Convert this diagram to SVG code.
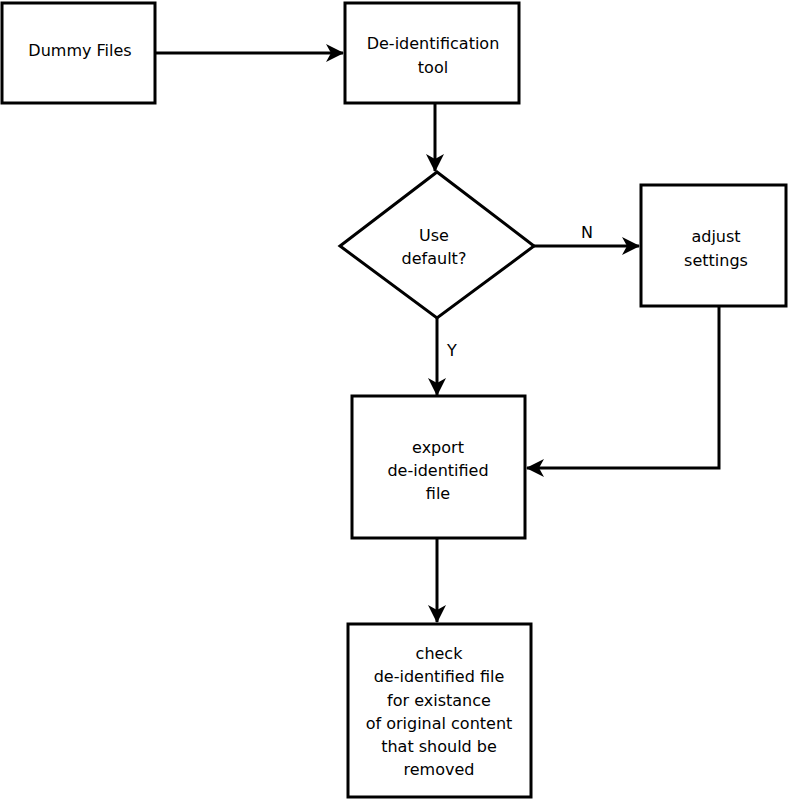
<svg xmlns="http://www.w3.org/2000/svg" width="789" height="800" viewBox="0 0 789 800">
<defs>
<style>
.box{fill:#fff;stroke:#000;stroke-width:3}
.edge{fill:none;stroke:#000;stroke-width:3}
text{font-family:"DejaVu Sans","Liberation Sans",sans-serif;font-size:16px;fill:#000;text-anchor:middle}
</style>
<marker id="arr" viewBox="0 0 18 18" refX="17" refY="9" markerWidth="18" markerHeight="18" markerUnits="userSpaceOnUse" orient="auto">
<path d="M0,0 L18,9 L0,18 L5,9 Z" fill="#000"/>
</marker>
</defs>
<rect width="789" height="800" fill="#fff"/>
<g id="connectors">
<path class="edge" d="M155,53 H343" marker-end="url(#arr)"/>
<path class="edge" d="M435,103 V171" marker-end="url(#arr)"/>
<path class="edge" d="M534,246 H639" marker-end="url(#arr)"/>
<path class="edge" d="M437,317 V395" marker-end="url(#arr)"/>
<path class="edge" d="M719,306 V468 H527" marker-end="url(#arr)"/>
<path class="edge" d="M437,538 V622" marker-end="url(#arr)"/>
<text x="587" y="238">N</text>
<text x="452" y="356">Y</text>
</g>
<g id="dummy">
<rect class="box" x="2" y="3" width="153" height="100"/>
<text x="80" y="56">Dummy Files</text>
</g>
<g id="tool">
<rect class="box" x="345" y="3" width="174" height="100"/>
<text x="433" y="49">De-identification</text>
<text x="433" y="73">tool</text>
</g>
<g id="decision">
<polygon class="box" points="437,172 534,246 437,318 340,246"/>
<text x="434" y="241">Use</text>
<text x="434" y="264">default?</text>
</g>
<g id="adjust">
<rect class="box" x="641" y="185" width="145" height="121"/>
<text x="716" y="242">adjust</text>
<text x="716" y="266">settings</text>
</g>
<g id="export">
<rect class="box" x="352" y="396" width="173" height="142"/>
<text x="438" y="453">export</text>
<text x="438" y="476">de-identified</text>
<text x="438" y="499">file</text>
</g>
<g id="check">
<rect class="box" x="348" y="624" width="183" height="173"/>
<text x="439" y="659">check</text>
<text x="439" y="682">de-identified file</text>
<text x="439" y="706">for existance</text>
<text x="439" y="729">of original content</text>
<text x="439" y="752">that should be</text>
<text x="439" y="775">removed</text>
</g>
</svg>
